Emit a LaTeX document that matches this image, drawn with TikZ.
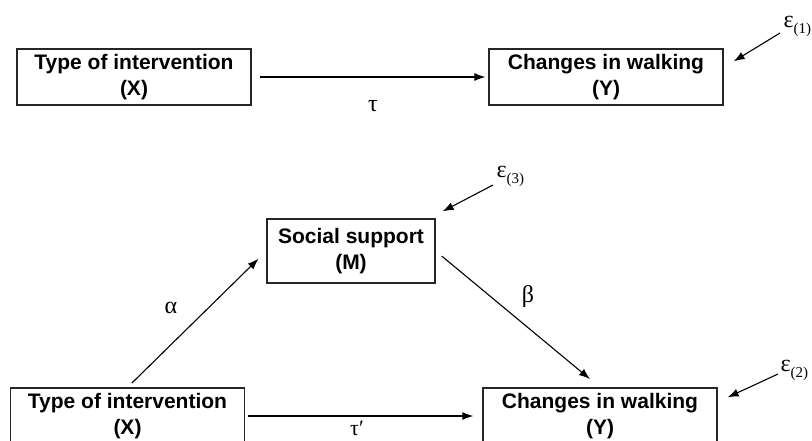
\documentclass[tikz,border=0pt]{standalone}
\usepackage{fontspec}
\setmainfont{Liberation Sans}
\newfontfamily\grk{Liberation Serif}
\usepackage{tikz}
\usetikzlibrary{arrows.meta}

\newcommand{\boxfont}{\fontsize{21}{26}\selectfont\bfseries}
\newcommand{\grkfont}{\grk\fontsize{24}{26}\selectfont}
\newcommand{\errsub}[1]{\raisebox{-0.25em}{\fontsize{15}{15}\selectfont(#1)}}

\begin{document}
\begin{tikzpicture}[x=1pt, y=-1pt, >={Latex[length=11pt,width=8pt]}, line width=1.1pt]
  \useasboundingbox (0,0) rectangle (812,440);
  \tikzset{
    varbox/.style={draw=black!85, line width=1.3pt, align=center, font=\boxfont,
      minimum height=56pt, inner sep=0pt},
    coef/.style={font=\grkfont, inner sep=0pt},
    errlbl/.style={font=\grkfont, inner sep=0pt, anchor=base west}
  }
  % total effect
  \node[varbox, minimum width=234pt] (x1) at (134,77) {Type of intervention\\(X)};
  \node[varbox, minimum width=234pt] (y1) at (606,77) {Changes in walking\\(Y)};
  \node[coef] (tau) at (373,106) {τ};
  \node[errlbl] (e1) at (783,27) {ε\errsub{1}};
  \draw[->, shorten <=8pt, shorten >=3pt] (x1.east) -- (y1.west);
  \draw[->] ([shift={(-3,6)}]e1.base west) -- ([shift={(10,13)}]y1.north east);
  % mediation model
  \node[varbox, minimum width=168pt, minimum height=64pt] (m) at (351,251) {Social support\\(M)};
  \node[varbox, minimum width=234pt] (x2) at (127.5,416) {Type of intervention\\(X)};
  \node[varbox, minimum width=234pt] (y2) at (600,416) {Changes in walking\\(Y)};
  \node[coef] (alpha) at (171,308) {α};
  \node[coef] (beta) at (528,297) {β};
  \node[coef, font=\grk\fontsize{22}{24}\selectfont] (taup) at (357,428) {τ′};
  \node[errlbl] (e3) at (496,177) {ε\errsub{3}};
  \node[errlbl] (e2) at (780,371) {ε\errsub{2}};
  \draw[->, shorten <=6pt, shorten >=11pt] (x2.north) -- (m.west);
  \draw[->, shorten <=8pt, shorten >=13pt] (m.east) -- (y2.north);
  \draw[->, shorten <=3pt, shorten >=9pt] (x2.east) -- (y2.west);
  \draw[->] ([shift={(-3,8)}]e3.base west) -- ([shift={(7,-7)}]m.north east);
  \draw[->] ([shift={(-2,3)}]e2.base west) -- ([shift={(10,10)}]y2.north east);
\end{tikzpicture}
\end{document}
